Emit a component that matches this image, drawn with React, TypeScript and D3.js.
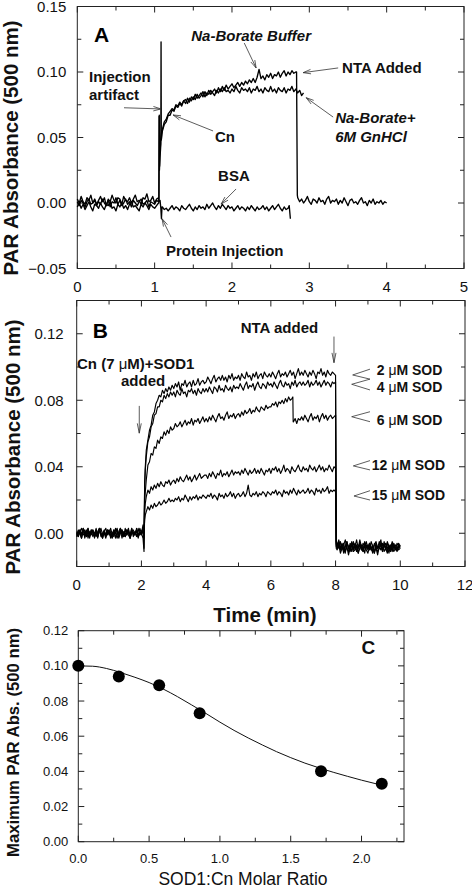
import React from "react";
import * as d3 from "d3";

const FONT = "'Liberation Sans', Arial, Helvetica, sans-serif";

// ---------------- Panel A data (absorbance x 1000), time in min, sampled every 0.025 min ----------------
// Na-Borate Buffer (Cn) trace
const aCnPre = [3, 0, 5, 1, -1, 4, 2, 6, 0, 3, -1, 2, 5, 1, 4, -2, 3, 1, 6, 2, 0, 4, 3, -1, 5, 2, 1, 4, 0, 3, 6, 1, 2, -1, 4, 3, 7, 1, 2, 5, 0, 3, 4]; // t = 0 .. 1.05
const aCnInj = [[1.055, 2], [1.058, 66], [1.062, 25], [1.068, 35], [1.075, 40], [1.08, 45], [1.083, 123], [1.086, 48], [1.095, 52]];
const aCnMid = [55, 60, 62, 67, 67, 71, 70, 74, 73, 76, 74, 78, 76, 80, 77, 81, 79, 83, 80, 82, 84, 81, 85, 82, 86, 83, 85, 87, 84, 88, 85, 89, 86, 90, 87, 89, 91, 88, 90, 92, 89, 92, 90, 93, 91, 94, 92, 95, 92, 96, 102, 95, 97, 94, 98, 96, 99, 95, 98, 97, 100, 96, 99, 101, 97, 100, 98, 101, 99, 100]; // t = 1.10 .. 2.825
const aCnDrop = [[2.835, 100], [2.845, 6]];
const aCnTail = [4, 1, 3, 0, 2, 5, 1, -1, 3, 2, 0, 4, 1, 2, -1, 3, 5, 0, 2, 1, 3, -1, 2, 0, 4, 1, -2, 2, 3, 0, 1, -1, 2, 4, 0, 1, -2, 2, 0, 3, -1, 1, 0, 2, -1, 1, 0]; // t = 2.85 .. 4.00
// Na-Borate + 6M GnHCl trace
const aGnPre = [-3, 0, -4, -1, -5, -2, 1, -3, -6, -1, -2, -4, 0, -3, -5, -1, -2, 1, -4, -3, -6, -1, -3, 0, -4, -2, -5, -1, 1, -3, -2, -4, -6, -1, -3, 0, -2, -5, -1, -3, -4, -2, 0];
const aGnInj = [[1.055, 0], [1.06, 67], [1.064, 28], [1.07, 38], [1.078, 48], [1.09, 54]];
const aGnMid = [56, 62, 64, 68, 70, 72, 71, 75, 74, 77, 75, 78, 79, 76, 80, 78, 81, 79, 83, 80, 82, 85, 81, 84, 83, 86, 84, 82, 86, 84, 87, 85, 88, 85, 86, 84, 87, 85, 89, 86, 84, 88, 86, 87, 85, 88, 84, 87, 86, 89, 85, 87, 84, 88, 86, 85, 89, 85, 87, 84, 88, 86, 85, 88, 84, 87, 86, 89, 85, 87, 84, 86, 82, 84]; // t = 1.10 .. 2.925
// BSA trace
const aBsaPre = [1, -2, 2, 0, -3, 1, 3, -1, 0, 2, -2, 1, -1, 3, 0, -2, 2, -3, 1, 0, 4, -1, 2, -2, 0, 3, -1, 1, -3, 2, 0, -2, 1, 3, -1, 0, 2, -3, 1, 0, -1, 2, 1];
const aBsaInj = [[1.07, 2], [1.08, -4], [1.088, -12], [1.095, -3]];
const aBsaMid = [-3, -5, -4, -6, -4, -2, -5, -3, -4, -6, -2, -4, -5, -3, -1, -4, -6, -3, -5, -2, -4, -3, -5, -1, -4, -2, 0, -3, -5, -2, -4, -1, -3, -5, -2, -4, -3, -6, -4, -2, -5, -3, -4, -6, -3, -5, -2, -4, -6, -3, -5, -4, -2, -5, -3, -6, -4, -2, -5, -3, -1, -4, -6, -3, -5, -4]; // t = 1.10 .. 2.725
const aBsaEnd = [[2.74, -2], [2.755, -12]];

// ---------------- Panel B data (absorbance x 1000), t = 0 .. 10 step 0.05 ----------------
const b2uM = [
  1, -2, 2, -1, 3, 0, -2, 1, -3, 2, 0, -1, 2, -2, 1, 3, -1, 0, -3, 1,
  2, -1, -3, 1, 0, 3, -2, 1, 2, -1, -2, 0, 3, -3, 1, 0, -1, 2, -2, 3,
  0, 5, 30, 50, 56, 62, 65, 71, 73, 78, 80, 83, 82, 86, 84, 87, 85, 88, 86, 89,
  87, 90, 88, 91, 86, 90, 89, 92, 88, 90, 91, 88, 92, 89, 90, 93, 89, 91, 92, 90,
  91, 94, 92, 90, 93, 95, 91, 93, 94, 92, 95, 92, 94, 91, 95, 93, 96, 92, 94, 93,
  95, 92, 96, 94, 93, 97, 94, 95, 92, 96, 94, 97, 93, 95, 96, 93, 97, 95, 94, 96,
  94, 97, 95, 93, 96, 98, 94, 96, 95, 97, 94, 96, 98, 95, 97, 93, 96, 99, 95, 97,
  95, 98, 96, 94, 97, 95, 98, 96, 93, 97, 96, 99, 95, 97, 94, 98, 96, 95, 97, 96,
  95, -6, -9, -5, -10, -7, -4, -9, -11, -6, -8, -5, -10, -7, -9, -4, -8, -11, -6, -9,
  -7, -10, -5, -8, -12, -6, -9, -7, -4, -10, -8, -6, -11, -7, -9, -5, -8, -10, -6, -8,
  -7];
const b2uMExtra = [[2.08, -9], [2.12, 40], [8.02, -5]];

const b4uM = [
  -1, 2, 0, -3, 1, 2, -2, 3, -1, 0, 2, -3, 1, -1, 3, -2, 0, 2, -1, 1,
  0, 3, -1, -2, 2, 1, -3, 0, 2, -2, 3, -1, 1, -3, 0, 2, -1, 3, -2, 0,
  -1, 2, 28, 46, 55, 58, 64, 66, 71, 72, 76, 76, 80, 79, 83, 81, 84, 82, 85, 83,
  85, 82, 86, 84, 83, 87, 84, 85, 82, 86, 85, 87, 84, 86, 83, 87, 85, 84, 87, 85,
  87, 85, 88, 86, 84, 88, 87, 85, 89, 86, 87, 85, 89, 87, 86, 88, 85, 89, 87, 88,
  87, 90, 88, 86, 89, 91, 87, 89, 88, 90, 86, 89, 91, 88, 87, 90, 89, 87, 91, 89,
  90, 88, 91, 89, 87, 90, 92, 89, 88, 91, 89, 90, 87, 91, 89, 92, 88, 90, 91, 89,
  91, 89, 90, 92, 88, 91, 89, 90, 92, 89, 91, 88, 90, 92, 89, 91, 90, 88, 91, 90,
  91, -9, -6, -10, -7, -12, -8, -5, -9, -11, -7, -10, -6, -8, -12, -9, -7, -10, -5, -8,
  -10, -7, -9, -12, -6, -8, -11, -9, -7, -10, -5, -9, -8, -12, -7, -10, -6, -9, -11, -8,
  -9];
const b4uMExtra = [[2.08, -3], [2.12, 38], [8.02, -8]];

const b6uM = [
  -2, 0, 2, -1, 3, -3, 1, 2, -2, 0, 1, -1, 3, -2, 2, 0, -3, 1, -1, 2,
  1, -3, 0, -1, 3, 1, -2, 2, -3, 1, 0, -1, 2, -2, 3, -1, 0, 2, -1, 0,
  1, 3, 20, 32, 41, 43, 48, 47, 52, 51, 56, 54, 58, 57, 61, 59, 62, 60, 64, 62,
  63, 66, 64, 65, 67, 64, 66, 68, 65, 67, 66, 69, 65, 68, 67, 69, 66, 68, 70, 67,
  69, 67, 70, 68, 71, 69, 67, 70, 72, 69, 70, 68, 71, 73, 69, 71, 70, 72, 69, 71,
  72, 70, 73, 71, 74, 72, 73, 75, 72, 74, 73, 76, 74, 73, 76, 75, 74, 77, 75, 76,
  76, 78, 77, 79, 76, 79, 78, 80, 78, 81, 79, 82, 80, 81, 67, 69, 66, 69, 68, 70,
  68, 71, 69, 67, 70, 72, 68, 70, 69, 71, 67, 70, 72, 69, 71, 68, 70, 71, 69, 70,
  71, -7, -4, -9, -6, -10, -8, -5, -9, -7, -11, -6, -8, -4, -9, -7, -10, -6, -8, -5,
  -9, -6, -8, -11, -7, -5, -9, -8, -6, -10, -7, -9, -5, -8, -11, -6, -9, -7, -10, -8,
  -8];
const b6uMExtra = [[2.08, 2], [6.68, 82], [6.69, 67], [8.02, -6]];

const b12uM = [
  0, -2, 1, 3, -1, 0, 2, -3, 1, -1, 2, 0, -2, 1, 3, -1, -3, 1, -2, 2,
  -1, 1, -2, 2, 0, -3, 1, 3, -1, 0, -2, 2, 1, -1, 3, -2, 0, 1, -3, 1,
  0, -3, 12, 22, 26, 24, 28, 26, 29, 27, 30, 28, 31, 29, 28, 31, 30, 32, 29, 31,
  32, 30, 33, 31, 34, 32, 31, 33, 35, 32, 34, 31, 33, 35, 32, 34, 36, 33, 34, 35,
  35, 33, 36, 34, 37, 35, 33, 36, 35, 38, 34, 36, 35, 37, 34, 36, 38, 35, 37, 36,
  37, 35, 38, 36, 39, 37, 35, 38, 36, 37, 39, 36, 38, 36, 39, 37, 35, 38, 37, 39,
  36, 39, 38, 40, 37, 39, 36, 38, 41, 37, 39, 38, 36, 40, 38, 37, 39, 41, 38, 37,
  40, 38, 39, 37, 41, 39, 38, 40, 37, 39, 41, 38, 40, 37, 39, 38, 41, 39, 37, 40,
  39, -8, -5, -10, -7, -9, -12, -6, -8, -10, -5, -9, -7, -11, -8, -6, -10, -8, -12, -7,
  -9, -6, -10, -8, -12, -7, -9, -5, -8, -11, -7, -10, -6, -9, -8, -11, -7, -9, -10, -6,
  -8];
const b12uMExtra = [[2.08, -11], [2.12, 18], [8.02, -7]];

const b15uM = [
  -2, 1, 0, -3, 2, -1, 0, 3, -1, 2, -2, 0, 1, -3, 2, 0, -2, 1, 3, -1,
  1, -2, 0, 2, -3, 1, -1, 3, 0, -2, 1, 2, -1, -3, 2, 0, 1, -2, 3, -1,
  1, 0, 8, 13, 16, 14, 17, 15, 18, 16, 17, 19, 17, 18, 20, 18, 19, 21, 19, 20,
  19, 21, 20, 22, 19, 21, 20, 23, 21, 19, 22, 20, 22, 21, 23, 20, 22, 21, 23, 22,
  21, 23, 22, 24, 21, 23, 22, 20, 24, 22, 23, 21, 24, 22, 23, 25, 22, 24, 21, 23,
  24, 22, 23, 25, 22, 24, 29, 23, 22, 24, 23, 25, 22, 24, 23, 25, 24, 22, 25, 24,
  23, 25, 24, 26, 23, 25, 24, 22, 26, 24, 25, 23, 26, 24, 27, 25, 23, 26, 24, 25,
  26, 24, 25, 27, 24, 26, 25, 23, 27, 25, 26, 24, 27, 25, 26, 28, 24, 26, 25, 26,
  25, -10, -7, -12, -9, -6, -11, -8, -13, -9, -7, -11, -10, -8, -12, -6, -9, -11, -8, -10,
  -12, -8, -10, -7, -11, -9, -13, -8, -10, -6, -11, -9, -12, -8, -10, -7, -11, -9, -8, -10,
  -9];
const b15uMExtra = [[2.08, 1], [2.12, 11], [8.02, -9]];

// ---------------- Panel C data ----------------
const cRatio = [0, 0.286, 0.571, 0.857, 1.714, 2.143];
const cMaxAbs = [0.1, 0.094, 0.089, 0.073, 0.04, 0.033];
const cFitX = [0, 0.1, 0.2, 0.3, 0.4, 0.5, 0.6, 0.7, 0.8, 0.9, 1.0, 1.1, 1.2, 1.3, 1.4, 1.5, 1.6, 1.7, 1.8, 1.9, 2.0, 2.14];
const cFitY = [0.1, 0.0998, 0.0985, 0.0962, 0.0935, 0.0905, 0.0868, 0.0825, 0.0778, 0.073, 0.068, 0.0633, 0.059, 0.055, 0.0512, 0.0478, 0.0447, 0.042, 0.0395, 0.0372, 0.035, 0.0322];

// ---------------- ticks ----------------
const aXMajor = [0, 1, 2, 3, 4, 5];
const aXMinor = [0.5, 1.5, 2.5, 3.5, 4.5];
const aYMajor = [-0.05, 0, 0.05, 0.1, 0.15];
const aYMinor = [-0.025, 0.025, 0.075, 0.125];
const bXMajor = [0, 2, 4, 6, 8, 10, 12];
const bXMinor = [1, 3, 5, 7, 9, 11];
const bYMajor = [0, 0.04, 0.08, 0.12];
const bYMinor = [-0.02, 0.02, 0.06, 0.1, 0.14];
const cXMajor = [0, 0.5, 1.0, 1.5, 2.0];
const cXMinor = [0.25, 0.75, 1.25, 1.75, 2.25];
const cYMajor = [0, 0.02, 0.04, 0.06, 0.08, 0.1, 0.12];
const cYMinor = [0.01, 0.03, 0.05, 0.07, 0.09, 0.11];

type P = [number, number];
const K = 1000;
const seg = (t0: number, dt: number, vals: number[]): P[] => vals.map((v, i) => [t0 + i * dt, v / K]);
const pairs = (arr: number[][]): P[] => arr.map(([t, v]) => [t, v / K]);
const merge = (vals: number[], extra: number[][]): P[] =>
  seg(0, 0.05, vals).concat(pairs(extra)).sort((a, b) => a[0] - b[0]);

const traceCn: P[] = [...seg(0, 0.025, aCnPre), ...pairs(aCnInj), ...seg(1.1, 0.025, aCnMid), ...pairs(aCnDrop), ...seg(2.85, 0.025, aCnTail)];
const traceGn: P[] = [...seg(0, 0.025, aGnPre), ...pairs(aGnInj), ...seg(1.1, 0.025, aGnMid)];
const traceBsa: P[] = [...seg(0, 0.025, aBsaPre), ...pairs(aBsaInj), ...seg(1.1, 0.025, aBsaMid), ...pairs(aBsaEnd)];
const tracesB: P[][] = [
  merge(b2uM, b2uMExtra),
  merge(b4uM, b4uMExtra),
  merge(b6uM, b6uMExtra),
  merge(b12uM, b12uMExtra),
  merge(b15uM, b15uMExtra),
];

// scales
const ax = d3.scaleLinear().domain([0, 5]).range([77.3, 464]);
const ay = d3.scaleLinear().domain([-0.05, 0.15]).range([268.5, 6.5]);
const bx = d3.scaleLinear().domain([0, 12]).range([76.7, 465]);
const by = d3.scaleLinear().domain([-0.02, 0.14]).range([566.5, 300.5]);
const cx = d3.scaleLinear().domain([0, 2.3]).range([78.3, 404]);
const cy = d3.scaleLinear().domain([0, 0.12]).range([841.7, 630.7]);

type Scale = d3.ScaleLinear<number, number>;

function Frame(props: {
  x: Scale; y: Scale; xMajor: number[]; xMinor: number[]; yMajor: number[]; yMinor: number[];
  xFmt: (n: number) => string; yFmt: (n: number) => string; fs: number; xOff: number; yOff: number;
}) {
  const { x, y, xMajor, xMinor, yMajor, yMinor, xFmt, yFmt, fs, xOff, yOff } = props;
  const [x0, x1] = x.range();
  const [y0, y1] = y.range();
  const M = 6, m = 4;
  const c = "#222";
  const lines: JSX.Element[] = [];
  const tickX = (v: number, len: number, key: string) => {
    const px = x(v);
    lines.push(<line key={key + "b"} x1={px} x2={px} y1={y0} y2={y0 - len} stroke={c} strokeWidth={1} />);
    lines.push(<line key={key + "t"} x1={px} x2={px} y1={y1} y2={y1 + len} stroke={c} strokeWidth={1} />);
  };
  const tickY = (v: number, len: number, key: string) => {
    const py = y(v);
    lines.push(<line key={key + "l"} x1={x0} x2={x0 + len} y1={py} y2={py} stroke={c} strokeWidth={1} />);
    lines.push(<line key={key + "r"} x1={x1} x2={x1 - len} y1={py} y2={py} stroke={c} strokeWidth={1} />);
  };
  xMajor.forEach((v, i) => tickX(v, M, "xM" + i));
  xMinor.forEach((v, i) => tickX(v, m, "xm" + i));
  yMajor.forEach((v, i) => tickY(v, M, "yM" + i));
  yMinor.forEach((v, i) => tickY(v, m, "ym" + i));
  return (
    <g>
      <rect x={x0} y={y1} width={x1 - x0} height={y0 - y1} fill="none" stroke={c} strokeWidth={1} />
      {lines}
      {xMajor.map((v, i) => (
        <text key={"xl" + i} x={x(v)} y={y0 + xOff} textAnchor="middle" dy="0.35em" fontSize={fs} fontFamily={FONT} fill="#111">{xFmt(v)}</text>
      ))}
      {yMajor.map((v, i) => (
        <text key={"yl" + i} x={x0 - yOff} y={y(v)} textAnchor="end" dy="0.35em" fontSize={fs} fontFamily={FONT} fill="#111">{yFmt(v)}</text>
      ))}
    </g>
  );
}

function Arrow({ x1, y1, x2, y2, head = 8, spread = 0.28 }: { x1: number; y1: number; x2: number; y2: number; head?: number; spread?: number }) {
  const ang = Math.atan2(y1 - y2, x1 - x2);
  const hx1 = x2 + head * Math.cos(ang + spread), hy1 = y2 + head * Math.sin(ang + spread);
  const hx2 = x2 + head * Math.cos(ang - spread), hy2 = y2 + head * Math.sin(ang - spread);
  return (
    <g stroke="#333" strokeWidth={0.8} fill="none">
      <line x1={x1} y1={y1} x2={x2} y2={y2} />
      <polyline points={`${hx1},${hy1} ${x2},${y2} ${hx2},${hy2}`} />
    </g>
  );
}

// annotations in data coordinates
const aLabels: { t: number; v: number; text: string; italic?: boolean }[] = [
  { t: 1.473, v: 0.1239, text: "Na-Borate Buffer", italic: true },
  { t: 3.424, v: 0.0994, text: "NTA Added" },
  { t: 0.151, v: 0.0926, text: "Injection" },
  { t: 0.151, v: 0.0786, text: "artifact" },
  { t: 1.781, v: 0.0468, text: "Cn" },
  { t: 3.334, v: 0.0608, text: "Na-Borate+", italic: true },
  { t: 3.334, v: 0.0463, text: "6M GnHCl", italic: true },
  { t: 1.82, v: 0.017, text: "BSA" },
  { t: 1.147, v: -0.0402, text: "Protein Injection" },
];
const aArrows = [
  [2.159, 0.1221, 2.312, 0.1031],
  [3.373, 0.1031, 2.92, 0.0995],
  [0.604, 0.0727, 1.083, 0.0718],
  [1.755, 0.055, 1.238, 0.0672],
  [3.308, 0.0656, 2.959, 0.0804],
  [2.053, 0.0107, 1.859, -0.0008],
  [1.212, -0.026, 1.096, -0.012],
];
const bSodLabels = [
  { t: 9.271, v: 0.0952, n: "2" },
  { t: 9.271, v: 0.0852, n: "4" },
  { t: 9.271, v: 0.0651, n: "6" },
  { t: 9.116, v: 0.0381, n: "12" },
  { t: 9.116, v: 0.02, n: "15" },
];
// marker: tip t, tip v, arm t, upper arm v, lower arm v
const bMarkers = [
  [8.529, 0.0952, 9.064, 0.0987, 0.0927],
  [8.498, 0.0896, 9.064, 0.0927, 0.0862],
  [8.498, 0.0701, 9.064, 0.0731, 0.0671],
  [8.548, 0.0405, 9.064, 0.0437, 0.0381],
  [8.569, 0.0224, 9.064, 0.0256, 0.02],
];

export default function App() {
  const lineA = d3.line<P>().x((d) => ax(d[0])).y((d) => ay(d[1]));
  const lineB = d3.line<P>().x((d) => bx(d[0])).y((d) => by(d[1]));
  const fitPts: P[] = cFitX.map((xv, i) => [xv, cFitY[i]]);
  const lineC = d3.line<P>().x((d) => cx(d[0])).y((d) => cy(d[1])).curve(d3.curveMonotoneX);
  const f2 = d3.format(".2f");
  const f1 = d3.format(".1f");
  const f0 = d3.format("d");
  const tr = { fill: "none", stroke: "#000", strokeWidth: 1.35, strokeLinejoin: "round" as const };

  return (
    <svg width={472} height={890} style={{ position: "absolute", left: 0, top: 0, background: "#fff" }} fontFamily={FONT}>
      <rect x={0} y={0} width={472} height={890} fill="#fff" />
      {/* ---------- Panel A ---------- */}
      <Frame x={ax} y={ay} xMajor={aXMajor} xMinor={aXMinor} yMajor={aYMajor} yMinor={aYMinor} xFmt={f0} yFmt={f2} fs={15} xOff={18.5} yOff={11} />
      <path d={lineA(traceBsa) || ""} {...tr} />
      <path d={lineA(traceGn) || ""} {...tr} />
      <path d={lineA(traceCn) || ""} {...tr} />
      <text x={ax(0.216)} y={ay(0.1231)} fontSize={21} fontWeight="bold">A</text>
      {aLabels.map((l, i) => (
        <text key={i} x={ax(l.t)} y={ay(l.v)} fontSize={15} fontWeight="bold" fontStyle={l.italic ? "italic" : "normal"} fill="#111">{l.text}</text>
      ))}
      {aArrows.map((a, i) => (
        <Arrow key={i} x1={ax(a[0])} y1={ay(a[1])} x2={ax(a[2])} y2={ay(a[3])} />
      ))}
      <text transform="translate(10,148) rotate(-90)" textAnchor="middle" dominantBaseline="central" fontSize={20.5} fontWeight="bold" fill="#111">PAR Absorbance (500 nm)</text>

      {/* ---------- Panel B ---------- */}
      <Frame x={bx} y={by} xMajor={bXMajor} xMinor={bXMinor} yMajor={bYMajor} yMinor={bYMinor} xFmt={f0} yFmt={f2} fs={15} xOff={18.5} yOff={13} />
      {tracesB.map((t, i) => (
        <path key={i} d={lineB(t) || ""} {...tr} strokeWidth={1.15} />
      ))}
      <text x={bx(0.494)} y={by(0.1175)} fontSize={21} fontWeight="bold">B</text>
      <text x={bx(5.068)} y={by(0.1207)} fontSize={15} fontWeight="bold" fill="#111">NTA added</text>
      <Arrow x1={bx(7.951)} y1={by(0.1183)} x2={bx(7.951)} y2={by(0.1026)} head={10} spread={0.2} />
      <text x={bx(0.009)} y={by(0.0988)} fontSize={15} fontWeight="bold" fill="#111">
        Cn (7 <tspan fontWeight="normal">μ</tspan>M)+SOD1
      </text>
      <text x={bx(1.369)} y={by(0.0888)} fontSize={15} fontWeight="bold" fill="#111">added</text>
      <Arrow x1={bx(1.934)} y1={by(0.0766)} x2={bx(1.934)} y2={by(0.0602)} head={10} spread={0.2} />
      {bSodLabels.map((l, i) => (
        <text key={i} x={bx(l.t)} y={by(l.v)} fontSize={14} fontWeight="bold" fill="#111">
          {l.n + " "}<tspan fontWeight="normal">μ</tspan>M SOD
        </text>
      ))}
      {bMarkers.map((m, i) => (
        <polyline key={i} points={`${bx(m[2])},${by(m[3])} ${bx(m[0])},${by(m[1])} ${bx(m[2])},${by(m[4])}`} fill="none" stroke="#333" strokeWidth={0.8} />
      ))}
      <text transform="translate(12,447) rotate(-90)" textAnchor="middle" dominantBaseline="central" fontSize={20.5} fontWeight="bold" fill="#111">PAR Absorbance (500 nm)</text>
      <text x={265} y={622} textAnchor="middle" fontSize={20.5} fontWeight="bold" fill="#111">Time (min)</text>

      {/* ---------- Panel C ---------- */}
      <Frame x={cx} y={cy} xMajor={cXMajor} xMinor={cXMinor} yMajor={cYMajor} yMinor={cYMinor} xFmt={f1} yFmt={f2} fs={13} xOff={16.5} yOff={10} />
      <path d={lineC(fitPts) || ""} fill="none" stroke="#111" strokeWidth={1} />
      {cRatio.map((r, i) => (
        <circle key={i} cx={cx(r)} cy={cy(cMaxAbs[i])} r={6} fill="#000" />
      ))}
      <text x={cx(2.0)} y={cy(0.1068)} fontSize={19} fontWeight="bold" fill="#111">C</text>
      <text transform="translate(13,742.5) rotate(-90)" textAnchor="middle" dominantBaseline="central" fontSize={16.7} fontWeight="bold" fill="#111">Maximum PAR Abs. (500 nm)</text>
      <text x={243} y={885} textAnchor="middle" fontSize={17.5} fill="#111">SOD1:Cn Molar Ratio</text>
    </svg>
  );
}
